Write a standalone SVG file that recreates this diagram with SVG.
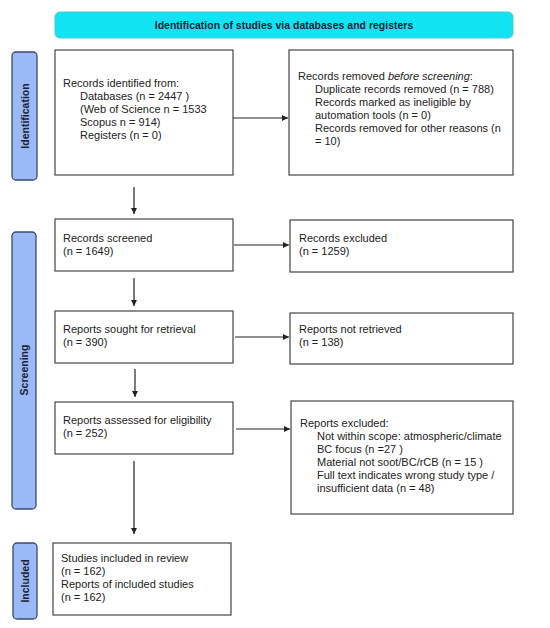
<svg xmlns="http://www.w3.org/2000/svg" width="550" height="628" viewBox="0 0 550 628">
<style>
.box{fill:#fff;stroke:#444;stroke-width:1.2}
.side{fill:#9bb8f7;stroke:#3d4b6e;stroke-width:1.3}
.t{font-family:"Liberation Sans",Arial,sans-serif;font-size:11px;fill:#222}
.b{font-family:"Liberation Sans",Arial,sans-serif;font-size:10.5px;font-weight:bold;fill:#1d2233}
.c{stroke:#222;stroke-width:1.2;fill:none}
</style>
<defs>
<marker id="ah" viewBox="0 0 10 10" refX="10" refY="5" markerWidth="6" markerHeight="6" markerUnits="userSpaceOnUse" orient="auto">
<path d="M0,0 L10,5 L0,10 z" fill="#222"/>
</marker>
</defs>
<rect width="550" height="628" fill="#fff"/>
<g id="banner">
<rect x="55" y="12" width="458" height="26" rx="5" fill="#12e3f3" stroke="#4fc7d3" stroke-width="1"/>
<text class="b" x="284" y="28.5" text-anchor="middle">Identification of studies via databases and registers</text>
</g>
<g id="phase-identification">
<rect class="side" x="12" y="52" width="25" height="128" rx="4"/>
<text class="b" transform="translate(28.5,116) rotate(-90)" text-anchor="middle">Identification</text>
</g>
<g id="phase-screening">
<rect class="side" x="12" y="232" width="24" height="277" rx="4"/>
<text class="b" transform="translate(28,370) rotate(-90)" text-anchor="middle">Screening</text>
</g>
<g id="phase-included">
<rect class="side" x="13" y="543" width="24" height="76" rx="4"/>
<text class="b" transform="translate(29,581) rotate(-90)" text-anchor="middle">Included</text>
</g>
<g id="records-identified">
<rect class="box" x="55" y="50" width="178" height="125"/>
<text class="t" x="63" y="87">Records identified from:</text>
<text class="t" x="80" y="100">Databases (n = 2447 )</text>
<text class="t" x="80" y="113">(Web of Science n = 1533</text>
<text class="t" x="80" y="126">Scopus n = 914)</text>
<text class="t" x="80" y="139">Registers (n = 0)</text>
</g>
<g id="records-removed">
<rect class="box" x="289" y="50" width="224" height="125"/>
<text class="t" x="298" y="80">Records removed <tspan font-style="italic">before screening</tspan>:</text>
<text class="t" x="315" y="93">Duplicate records removed  (n = 788)</text>
<text class="t" x="315" y="106">Records marked as ineligible by</text>
<text class="t" x="315" y="119">automation tools (n = 0)</text>
<text class="t" x="315" y="132">Records removed for other reasons (n</text>
<text class="t" x="315" y="145">= 10)</text>
</g>
<g id="records-screened">
<rect class="box" x="55" y="219" width="178" height="52"/>
<text class="t" x="63" y="242">Records screened</text>
<text class="t" x="63" y="255">(n = 1649)</text>
</g>
<g id="records-excluded">
<rect class="box" x="290" y="220" width="223" height="52"/>
<text class="t" x="299" y="242">Records excluded</text>
<text class="t" x="299" y="255">(n = 1259)</text>
</g>
<g id="reports-sought">
<rect class="box" x="55" y="311" width="178" height="52"/>
<text class="t" x="63" y="333">Reports sought for retrieval</text>
<text class="t" x="63" y="346">(n = 390)</text>
</g>
<g id="reports-not-retrieved">
<rect class="box" x="290" y="313" width="223" height="51"/>
<text class="t" x="299" y="333">Reports not retrieved</text>
<text class="t" x="299" y="346">(n = 138)</text>
</g>
<g id="reports-assessed">
<rect class="box" x="55" y="402" width="178" height="52"/>
<text class="t" x="63" y="424">Reports assessed for eligibility</text>
<text class="t" x="63" y="437">(n = 252)</text>
</g>
<g id="reports-excluded">
<rect class="box" x="291" y="401" width="222" height="113"/>
<text class="t" x="300" y="427">Reports excluded:</text>
<text class="t" x="317" y="440">Not within scope: atmospheric/climate</text>
<text class="t" x="317" y="453">BC focus (n =27 )</text>
<text class="t" x="317" y="466">Material not soot/BC/rCB (n = 15 )</text>
<text class="t" x="317" y="479">Full text indicates wrong study type /</text>
<text class="t" x="317" y="492">insufficient data (n = 48)</text>
</g>
<g id="studies-included">
<rect class="box" x="53" y="543" width="178" height="72"/>
<text class="t" x="61" y="562">Studies included in review</text>
<text class="t" x="61" y="575">(n = 162)</text>
<text class="t" x="61" y="588">Reports of included studies</text>
<text class="t" x="61" y="601">(n = 162)</text>
</g>
<g id="connectors">
<line class="c" x1="233" y1="118" x2="288" y2="118" marker-end="url(#ah)"/>
<line class="c" x1="134" y1="187" x2="134" y2="214" marker-end="url(#ah)"/>
<line class="c" x1="234" y1="245" x2="289" y2="245" marker-end="url(#ah)"/>
<line class="c" x1="134" y1="278" x2="134" y2="306" marker-end="url(#ah)"/>
<line class="c" x1="235" y1="337" x2="289" y2="337" marker-end="url(#ah)"/>
<line class="c" x1="135" y1="369" x2="135" y2="397" marker-end="url(#ah)"/>
<line class="c" x1="236" y1="429" x2="290" y2="429" marker-end="url(#ah)"/>
<line class="c" x1="134" y1="461" x2="134" y2="534" marker-end="url(#ah)"/>
</g>
</svg>
